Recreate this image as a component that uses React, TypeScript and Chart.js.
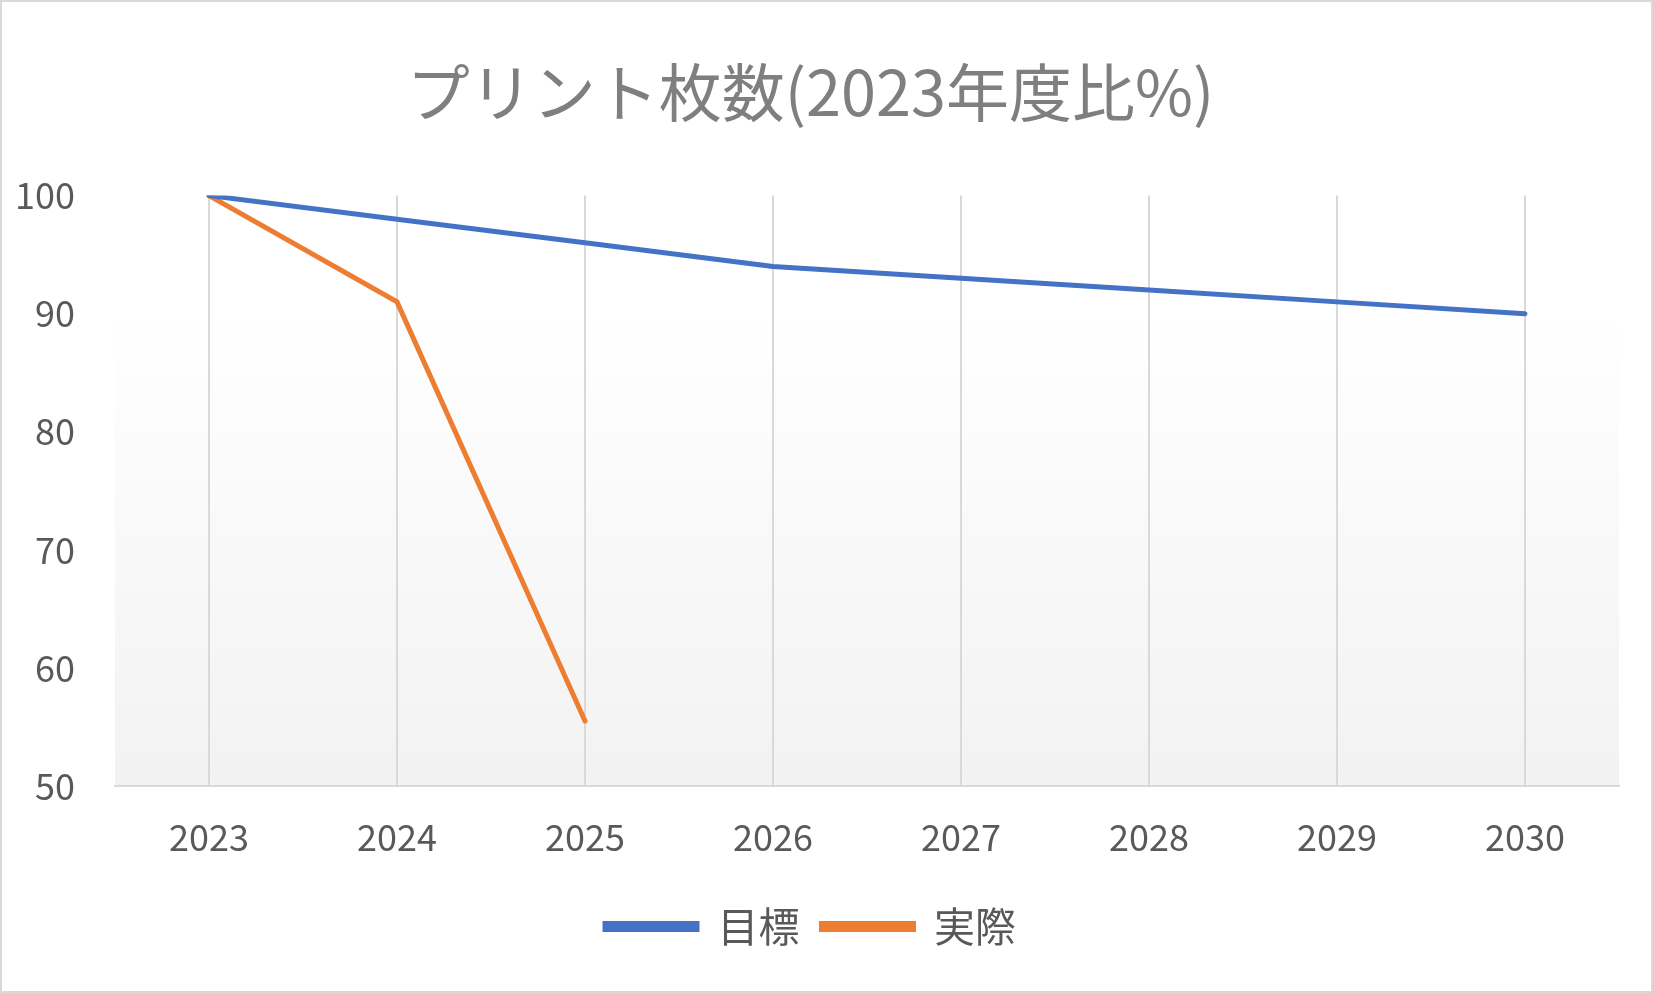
import React, { useEffect, useRef } from "react";
import { Chart, registerables } from "chart.js";
Chart.register(...registerables);

const categories = ["2023", "2024", "2025", "2026", "2027", "2028", "2029", "2030"];
const targetValues = [100, 98, 96, 94, 93, 92, 91, 90];
const actualValues: (number | null)[] = [100, 91, 55.5, null, null, null, null, null];
const seriesNames = ["目標", "実際"];
const titleText = "プリント枚数(2023年度比%)";

const FONT = "'Noto Sans CJK JP', 'Noto Sans', sans-serif";

const bgPlugin = {
  id: "plotBg",
  beforeDraw(chart: any) {
    const { ctx, chartArea: a } = chart;
    const g = ctx.createLinearGradient(0, a.top, 0, a.bottom);
    g.addColorStop(0, "#ffffff");
    g.addColorStop(0.2, "#ffffff");
    g.addColorStop(1, "#f2f2f2");
    ctx.save();
    ctx.fillStyle = g;
    ctx.fillRect(a.left, a.top, a.right - a.left, a.bottom - a.top);
    ctx.restore();
  },
};

export default function App() {
  const ref = useRef<HTMLCanvasElement>(null);
  useEffect(() => {
    document.body.style.margin = "0";
    const chart = new Chart(ref.current!, {
      type: "line",
      data: {
        labels: categories,
        datasets: [
          { label: seriesNames[0], data: targetValues, borderColor: "#4472c4", backgroundColor: "#4472c4", borderWidth: 5, pointRadius: 0, tension: 0, borderCapStyle: "round" },
          { label: seriesNames[1], data: actualValues, borderColor: "#ed7d31", backgroundColor: "#ed7d31", borderWidth: 5, pointRadius: 0, tension: 0, borderCapStyle: "round" },
        ],
      },
      options: {
        animation: false,
        responsive: false,
        layout: { padding: { left: 0, right: 32, bottom: 34, top: 0 } },
        plugins: {
          title: { display: true, text: titleText, color: "#7f7f7f", font: { family: FONT, size: 63, weight: "normal" }, padding: { top: 52, bottom: 66 } },
          legend: {
            position: "bottom",
            labels: { color: "#595959", font: { family: FONT, size: 41 }, boxWidth: 92, boxHeight: 6, padding: 22 },
          },
          tooltip: { enabled: false },
        },
        scales: {
          x: {
            offset: true,
            grid: { display: true, offset: false, color: "#d9d9d9", lineWidth: 2, drawTicks: false },
            border: { color: "#d9d9d9", width: 2 },
            ticks: { color: "#595959", font: { family: FONT, size: 36 }, padding: 30 },
            afterFit: (s: any) => { s.height = 98; },
          },
          y: {
            min: 50, max: 100,
            grid: { display: false, drawTicks: false },
            border: { display: false },
            ticks: { stepSize: 10, color: "#595959", font: { family: FONT, size: 36 }, padding: 40 },
            afterFit: (s: any) => { s.width = 113; },
          },
        },
      },
      plugins: [bgPlugin],
    } as any);
    return () => chart.destroy();
  }, []);
  return (
    <div style={{ width: 1653, height: 993, boxSizing: "border-box", border: "2px solid #d9d9d9", background: "#fff", position: "relative" }}>
      <canvas ref={ref} width={1649} height={989} style={{ display: "block" }} />
    </div>
  );
}
